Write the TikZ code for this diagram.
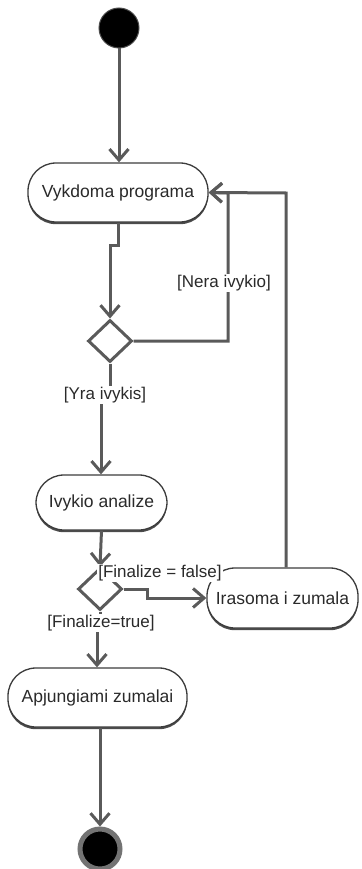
\documentclass[tikz,border=0pt]{standalone}
\usepackage{fontspec}
\setmainfont{Liberation Sans}
\usetikzlibrary{arrows.meta,shapes.geometric,shadows}
\definecolor{linegray}{HTML}{5A5A5A}
\definecolor{edgegray}{HTML}{3C3C3C}
\definecolor{textgray}{HTML}{2A2A2A}
\begin{document}
\begin{tikzpicture}[x=1pt,y=-1pt,line join=miter,
  flow/.style={draw=linegray, line width=3pt,
    -{Straight Barb[length=11pt,width=19pt]}},
  activity/.style={rectangle, rounded corners=28pt, draw=edgegray,
    line width=1.3pt, fill=white, inner sep=0pt, text=textgray,
    font=\fontsize{17.5}{20}\selectfont,
    drop shadow={shadow xshift=0pt, shadow yshift=-2.2pt, fill=black!70, opacity=1}},
  decision/.style={diamond, draw=linegray, line width=3pt, fill=white,
    minimum width=44pt, minimum height=42pt, inner sep=0pt, aspect=1.05},
  guard/.style={fill=white, inner sep=1pt, text=textgray,
    font=\fontsize{17}{20}\selectfont},
  initial/.style={circle, fill=black, draw=black!70, line width=1pt,
    minimum size=40pt, inner sep=0pt},
  final/.style={circle, fill=black, draw=black!55, line width=5pt,
    minimum size=40pt, inner sep=0pt}]
\useasboundingbox (0,0) rectangle (361,869);

% nodes
\node[initial] (start) at (119,28) {};
\node[activity, minimum width=180pt, minimum height=59pt] (vyk) at (118,192.5) {Vykdoma programa};
\node[decision] (d1) at (110,341) {};
\node[activity, minimum width=131pt, minimum height=55pt] (ivy) at (101.5,502.5) {Ivykio analize};
\node[decision] (d2) at (100,589) {};
\node[activity, minimum width=151pt, minimum height=60pt] (irs) at (282.5,598) {Irasoma i zumala};
\node[activity, minimum width=179pt, minimum height=59pt] (apj) at (97.5,697.5) {Apjungiami zumalai};
\node[final] (end) at (100,849) {};

\coordinate (nb) at (228,341);
\coordinate (nt) at (228,193);
\coordinate (lt) at (286,193);
\coordinate (yk1) at (110,395);
\coordinate (yk2) at (101,395);
\coordinate (fk1) at (147,589);
\coordinate (fk2) at (147,598);
\coordinate (tk1) at (100,623);
\coordinate (tk2) at (97,623);

% connectors
\draw[flow] (start) -- (vyk.north -| start);
\draw[flow] (vyk.south) -- ++(0,23) -| (d1.north);
\draw[flow] (d1.east) -- (nb) -- (nt) -- (vyk.east);
\draw[flow] (irs.north -| lt) -- (lt) -- (vyk.east);
\draw[flow] (d1.south) -- (yk1) -- (yk2) -- (ivy.north -| yk2);
\draw[flow] (ivy.south) -- (d2.north);
\draw[flow] (d2.east) -- (fk1) -- (fk2) -- (irs.west);
\draw[flow] (d2.south) -- (tk1) -- (tk2) -- (apj.north -| tk2);
\draw[flow] (apj.south -| end) -- (end);

% guard labels
\node[guard] (gnera) at (224,283) {[Nera ivykio]};
\node[guard] (gyra) at (105,395) {[Yra ivykis]};
\node[guard] (gfalse) at (160,573) {[Finalize = false]};
\node[guard] (gtrue) at (101,623) {[Finalize=true]};
\end{tikzpicture}
\end{document}
